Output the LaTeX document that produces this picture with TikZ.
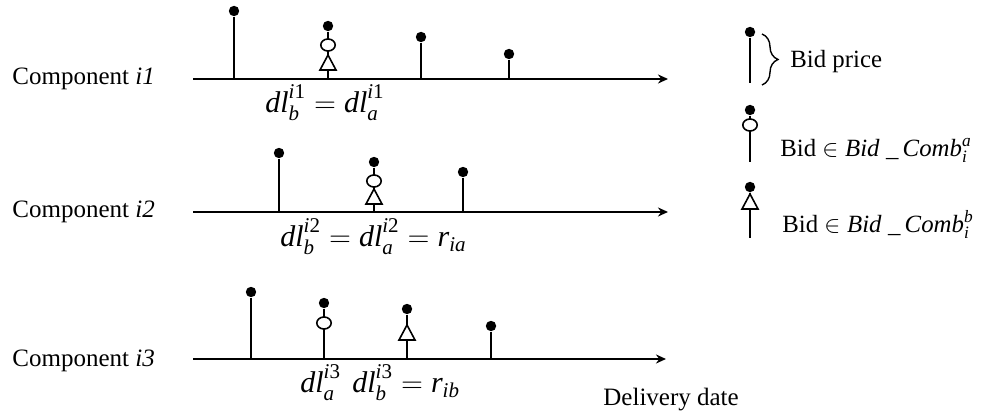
\documentclass[tikz,border=0pt]{standalone}
\usepackage{amsmath}
\usepackage{fontspec}
\setmainfont{Liberation Serif}
\usetikzlibrary{arrows.meta,shapes.geometric,decorations.pathreplacing}
\newcommand{\itx}[1]{\text{\itshape #1}}
\newcommand{\upsup}[1]{\raisebox{1.2pt}{$\scriptstyle #1$}}
\begin{document}
\begin{tikzpicture}[x=0.5pt,y=-0.5pt,
  axis/.style={line width=0.9pt,-{Stealth[length=5pt,width=4.5pt,inset=1.6pt]}},
  stem/.style={line width=0.9pt},
  dot/.style={circle,fill=black,inner sep=0pt,minimum size=5.2pt},
  ring/.style={ellipse,draw,fill=white,line width=0.8pt,inner sep=0pt,minimum width=7.2pt,minimum height=6pt},
  tri/.pic={\draw[line width=0.8pt,fill=white,line join=miter] (-8,15) -- (0,0) -- (8,15) -- cycle;},
  comp/.style={anchor=base west,inner sep=0pt,font=\fontsize{12.5}{15}\selectfont},
  mlab/.style={anchor=base west,inner sep=0pt,font=\fontsize{15}{18}\selectfont},
  leg/.style={anchor=base west,inner sep=0pt,font=\fontsize{12.4}{15}\selectfont}]
\useasboundingbox (0,0) rectangle (1000,416);

% ---------- Component i1 ----------
\node[comp] (c1) at (12,85) {Component \textit{i1}};
\coordinate (a1s) at (193,79);
\coordinate (a1e) at (668,79);
\draw[axis] (a1s) -- (a1e);
\node[dot] (d11) at (234,11) {};
\node[dot] (d12) at (328,26) {};
\node[dot] (d13) at (421,37) {};
\node[dot] (d14) at (509,54) {};
\foreach \n in {d11,d12,d13,d14} \draw[stem] (\n) -- (\n |- a1s);
\node[ring] (r12) at (328,45) {};
\pic at (328,55) {tri};
\node[mlab] (l1) at (265,113) {$\itx{dl}_{\itx{b}}^{\upsup{\itx{i}\text{1}}} = \itx{dl}_{\itx{a}}^{\upsup{\itx{i}\text{1}}}$};

% ---------- Component i2 ----------
\node[comp] (c2) at (12,218) {Component \textit{i2}};
\coordinate (a2s) at (193,212);
\coordinate (a2e) at (668,212);
\draw[axis] (a2s) -- (a2e);
\node[dot] (d21) at (279,153) {};
\node[dot] (d22) at (374,162) {};
\node[dot] (d23) at (463,172) {};
\foreach \n in {d21,d22,d23} \draw[stem] (\n) -- (\n |- a2s);
\node[ring] (r22) at (374,181) {};
\pic at (374,189) {tri};
\node[mlab] (l2) at (280,247) {$\itx{dl}_{\itx{b}}^{\upsup{\itx{i}\text{2}}} = \itx{dl}_{\itx{a}}^{\upsup{\itx{i}\text{2}}} = \itx{r}_{\itx{ia}}$};

% ---------- Component i3 ----------
\node[comp] (c3) at (12,366) {Component \textit{i3}};
\coordinate (a3s) at (193,359);
\coordinate (a3e) at (666,359);
\draw[axis] (a3s) -- (a3e);
\node[dot] (d31) at (251,292) {};
\node[dot] (d32) at (324,303) {};
\node[dot] (d33) at (407,309) {};
\node[dot] (d34) at (491,326) {};
\foreach \n in {d31,d32,d33,d34} \draw[stem] (\n) -- (\n |- a3s);
\node[ring] (r32) at (324,323) {};
\pic at (407,325) {tri};
\node[mlab] (l3a) at (300,393) {$\itx{dl}_{\itx{a}}^{\upsup{\itx{i}\text{3}}}$};
\node[mlab] (l3b) at (352,393) {$\itx{dl}_{\itx{b}}^{\upsup{\itx{i}\text{3}}} = \itx{r}_{\itx{ib}}$};
\node[comp] (dd) at (603,405) {Delivery date};

% ---------- Legend ----------
\node[dot] (g1) at (750,32) {};
\coordinate (g1b) at (750,83);
\draw[stem] (g1) -- (g1b);
\draw[line width=0.7pt,decorate,decoration={brace,amplitude=8pt}] (762,34) -- (762,85);
\node[leg] (t1) at (790,68) {Bid price};

\node[dot] (g2) at (750,110) {};
\coordinate (g2b) at (750,162);
\draw[stem] (g2) -- (g2b);
\node[ring] (gr2) at (750,125) {};
\node[leg] (t2) at (780,157) {Bid $\in \itx{Bid}\;\itx{\_\,Comb}_{\itx{i}}^{\itx{a}}$};

\node[dot] (g3) at (750,187) {};
\coordinate (g3b) at (750,238);
\draw[stem] (g3) -- (g3b);
\pic at (750,194) {tri};
\node[leg] (t3) at (782,233) {Bid $\in \itx{Bid}\;\itx{\_\,Comb}_{\itx{i}}^{\itx{b}}$};
\end{tikzpicture}
\end{document}
